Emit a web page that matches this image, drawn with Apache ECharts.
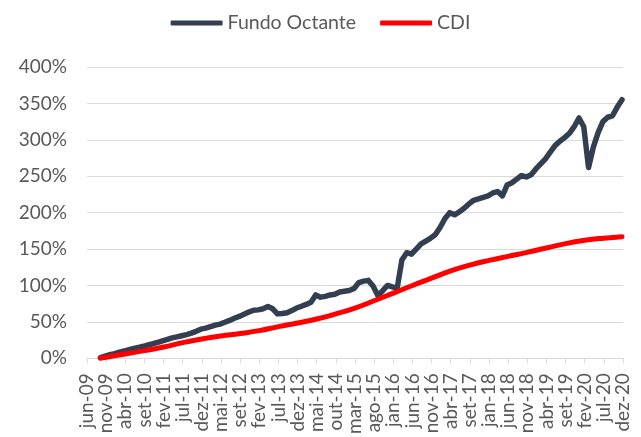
<!DOCTYPE html>
<html>
<head>
<meta charset="utf-8">
<script src="https://cdn.jsdelivr.net/npm/echarts@6/dist/echarts.min.js"></script>
<style>
    html, body { margin: 0; padding: 0; background: #fff; }
    #chart { width: 641px; height: 437px; }
</style>
</head>
<body>
<div id="chart"></div>
<script>
// x axis tick labels, one per tick
const tickLabels = [
    'jun-09', 'nov-09', 'abr-10', 'set-10', 'fev-11', 'jul-11', 'dez-11', 'mai-12',
    'set-12', 'fev-13', 'jul-13', 'dez-13', 'mai-14', 'out-14', 'mar-15', 'ago-15',
    'jan-16', 'jun-16', 'nov-16', 'abr-17', 'set-17', 'jan-18', 'jun-18', 'nov-18',
    'abr-19', 'set-19', 'fev-20', 'jul-20', 'dez-20'
];

// Fundo Octante, sampled every quarter of a tick step starting at fundStart
const fundStart = 0.7;
const fundStep = 0.25;
const fundValues = [
    1, 3, 5, 6.5, 8.5, 10, 12, 13.5, 15, 16.5,
    18.5, 20, 22, 24, 26, 28, 29.5, 31, 32.5, 34.5,
    37, 40, 41.5, 43.5, 45.5, 47, 49.5, 52, 55, 57.5,
    60.5, 63.5, 66, 66.5, 68, 71, 68, 61, 61.5, 62.5,
    65.5, 69, 71.5, 74, 77, 87, 84, 85, 87, 88,
    91, 92, 93, 96, 104, 106, 107, 99, 86, 93,
    100, 98, 96, 135, 145, 143, 150, 157, 161, 165,
    170, 180, 192, 200, 197, 201, 206, 212, 217, 219,
    221, 223, 227, 229, 223, 238, 241, 246, 251, 249,
    252, 260, 267, 274, 283, 292, 298, 303, 309, 318,
    330, 318, 262, 290, 310, 325, 331, 333, 345, 355
];

// CDI, read at these axis positions
const cdiAt = [
    0.7, 1, 2, 3, 4, 5, 6, 7, 8, 9,
    10, 11, 12, 13, 14, 15, 16, 17, 18, 19,
    20, 21, 22, 23, 24, 25, 26, 27, 27.95
];
const cdiValues = [
    0, 1.5, 6, 10.5, 15.5, 21.5, 26.5, 30.5, 34, 38,
    43.5, 48.5, 54, 61, 69, 79, 89.5, 100, 110, 120,
    128, 134.5, 140, 145.5, 151.5, 157.5, 162, 165, 167
];

const fundData = fundValues.map((v, i) => [fundStart + i * fundStep, v]);
const cdiData = cdiValues.map((v, i) => [cdiAt[i], v]);

const textColor = '#595959';
const gridColor = '#d9d9d9';
const font = 'Lato';

const chart = echarts.init(document.getElementById('chart'));
chart.setOption({
    animation: false,
    backgroundColor: '#fff',
    textStyle: { fontFamily: font },
    legend: {
        top: 8,
        left: 'center',
        icon: 'roundRect',
        itemWidth: 52,
        itemHeight: 5,
        itemGap: 24,
        textStyle: { color: textColor, fontSize: 19.5, fontFamily: font },
        data: ['Fundo Octante', 'CDI']
    },
    grid: { left: 87, right: 18, top: 67, bottom: 78 },
    xAxis: {
        type: 'value',
        min: 0,
        max: 28,
        interval: 1,
        splitLine: { show: false },
        axisLine: { lineStyle: { color: gridColor, width: 1 } },
        axisTick: { show: true, length: 5, lineStyle: { color: gridColor } },
        axisLabel: {
            rotate: 90,
            margin: 15,
            color: textColor,
            fontSize: 19,
            fontFamily: font,
            showMinLabel: true,
            showMaxLabel: true,
            formatter: v => tickLabels[Math.round(v)] || ''
        }
    },
    yAxis: {
        type: 'value',
        min: 0,
        max: 400,
        interval: 50,
        axisLine: { show: false },
        axisTick: { show: false },
        splitLine: { lineStyle: { color: gridColor, width: 1 } },
        axisLabel: {
            margin: 20,
            color: textColor,
            fontSize: 19,
            fontFamily: font,
            formatter: v => v + '%'
        }
    },
    series: [
        {
            name: 'Fundo Octante',
            type: 'line',
            data: fundData,
            symbol: 'none',
            color: '#333f50',
            lineStyle: { width: 5.5, color: '#333f50', cap: 'round', join: 'round' }
        },
        {
            name: 'CDI',
            type: 'line',
            data: cdiData,
            symbol: 'none',
            smooth: true,
            color: '#ff0000',
            lineStyle: { width: 5, color: '#ff0000', cap: 'round', join: 'round' }
        }
    ]
});
</script>
</body>
</html>
